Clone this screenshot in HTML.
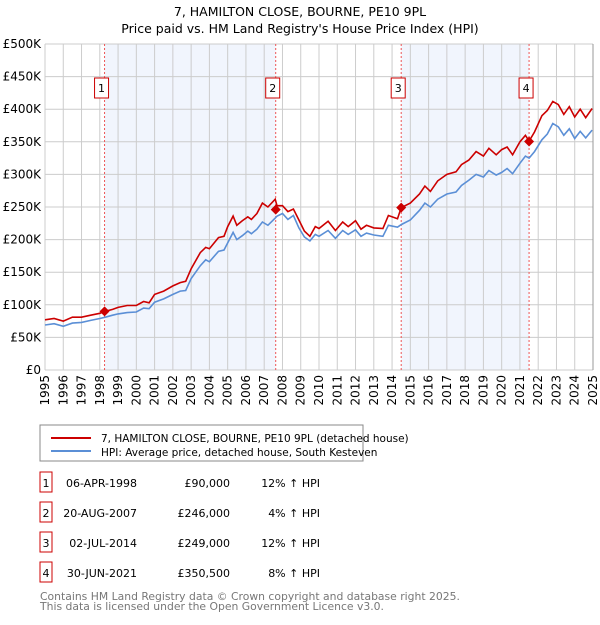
<!DOCTYPE html>
<html><head><meta charset="utf-8"><style>
body{margin:0;background:#fff;font-family:"Liberation Sans","DejaVu Sans",sans-serif;}
svg text{font-family:"DejaVu Sans","Liberation Sans",sans-serif;}
</style></head><body>
<svg id="c" width="600" height="620" xmlns="http://www.w3.org/2000/svg">
<text x="300" y="16" font-size="12.5" text-anchor="middle">7, HAMILTON CLOSE, BOURNE, PE10 9PL</text>
<text x="300" y="33" font-size="12.5" text-anchor="middle">Price paid vs. HM Land Registry's House Price Index (HPI)</text>
<g id="plot"></g>
<g>
<rect x="40" y="425" width="323" height="36" fill="#fff" stroke="#888"/>
<line x1="51" y1="438" x2="91" y2="438" stroke="#cc0000" stroke-width="2"/>
<text x="101" y="442" font-size="10.5">7, HAMILTON CLOSE, BOURNE, PE10 9PL (detached house)</text>
<line x1="51" y1="451" x2="91" y2="451" stroke="#5b8fd6" stroke-width="2"/>
<text x="101" y="456" font-size="10.5">HPI: Average price, detached house, South Kesteven</text>
</g>
<g id="tbl" font-size="11"></g>
<text x="40" y="600" font-size="10.8" fill="#777">Contains HM Land Registry data © Crown copyright and database right 2025.</text>
<text x="40" y="610" font-size="10.8" fill="#777">This data is licensed under the Open Government Licence v3.0.</text>
</svg>
<script>
const times=[1995.0,1995.5,1996.0,1996.5,1997.0,1997.5,1998.0,1998.3,1998.7,1999.0,1999.5,2000.0,2000.4,2000.7,2001.0,2001.5,2002.0,2002.4,2002.7,2003.0,2003.5,2003.8,2004.0,2004.5,2004.8,2005.0,2005.3,2005.5,2005.8,2006.1,2006.3,2006.6,2006.9,2007.2,2007.6,2007.7,2008.0,2008.3,2008.6,2008.9,2009.2,2009.5,2009.8,2010.0,2010.5,2010.9,2011.3,2011.6,2012.0,2012.3,2012.6,2013.0,2013.5,2013.8,2014.3,2014.5,2015.0,2015.5,2015.8,2016.1,2016.5,2017.0,2017.5,2017.8,2018.2,2018.6,2019.0,2019.3,2019.7,2020.0,2020.3,2020.6,2021.0,2021.3,2021.5,2021.8,2022.2,2022.5,2022.8,2023.1,2023.4,2023.7,2024.0,2024.3,2024.6,2024.95];
const hpi=[69,71,67,72,73,76,79,81,84,86,88,89,95,94,104,109,116,121,122,140,160,169,166,182,184,195,211,200,206,213,209,216,227,222,233,236,240,231,237,218,204,198,208,205,214,202,214,208,215,205,210,207,205,222,219,223,230,245,256,250,262,270,273,283,291,300,296,306,299,303,309,301,317,328,325,335,353,362,378,373,360,370,355,366,356,368];
const price=[77,79,75,81,81,84,87,90,93,96,99,99,105,103,116,121,129,134,136,155,180,188,186,203,205,220,236,222,229,235,231,240,256,250,262,252,252,243,247,230,213,205,220,217,228,214,227,220,229,216,222,218,217,237,232,249,256,270,282,274,290,300,304,315,322,335,328,340,330,338,342,330,350,360,351,365,390,398,412,407,392,404,388,400,387,401];
const saleYears=[1998.26,2007.63,2014.5,2021.5];
const saleValues=[90,246,249,350.5];
const saleDates=["06-APR-1998","20-AUG-2007","02-JUL-2014","30-JUN-2021"];
const salePrices=["£90,000","£246,000","£249,000","£350,500"];
const saleDiffs=["12% ↑ HPI","4% ↑ HPI","12% ↑ HPI","8% ↑ HPI"];
const yTicks=[0,50,100,150,200,250,300,350,400,450,500];
const yTickLabels=["£0","£50K","£100K","£150K","£200K","£250K","£300K","£350K","£400K","£450K","£500K"];
const xTicks=[1995,1996,1997,1998,1999,2000,2001,2002,2003,2004,2005,2006,2007,2008,2009,2010,2011,2012,2013,2014,2015,2016,2017,2018,2019,2020,2021,2022,2023,2024,2025];

const NS="http://www.w3.org/2000/svg";
const L=45,R=593,T=44,B=370;
const x=t=>L+(t-1995)/30*(R-L);
const y=v=>B-v/500*(B-T);
const g=document.getElementById('plot');
function mk(tag,at,parent){const e=document.createElementNS(NS,tag);for(const k in at)e.setAttribute(k,at[k]);(parent||g).appendChild(e);return e;}
[[0,1],[2,3]].forEach((p,i)=>{
  const a=x(saleYears[p[0]]), b=x(saleYears[p[1]]);
  const r=mk('rect',{x:a,y:T,width:b-a,height:B-T,fill:'#eef3fc',opacity:0.8});
  
  
});
yTicks.forEach((v,i)=>{
  const l=mk('line',{x1:L,x2:R,y1:y(v),y2:y(v),stroke:'#cccccc'});
  
  
  const t=mk('text',{x:L-4,y:y(v)+4,'font-size':12,'text-anchor':'end'});
  t.textContent=yTickLabels[i];
  
  
});
xTicks.forEach(v=>{
  const l=mk('line',{x1:x(v),x2:x(v),y1:T,y2:B,stroke:'#cccccc'});
  
  
  const t=mk('text',{x:0,y:0,'font-size':12,'text-anchor':'end',transform:`translate(${x(v)+4},${B+5}) rotate(-90)`});
  t.textContent=v;
  
  
});
mk('line',{x1:R,x2:R,y1:T,y2:B,stroke:'#999'});
saleYears.forEach((s,i)=>{
  const l=mk('line',{x1:x(s),x2:x(s),y1:T,y2:B,stroke:'#ee5555','stroke-dasharray':'2,2','stroke-width':1});
  
  
});
function path(vals,color,name){
  const d=times.map((t,i)=>(i?'L':'M')+x(t).toFixed(1)+','+y(vals[i]).toFixed(1)).join('');
  const p=mk('path',{d:d,fill:'none',stroke:color,'stroke-width':1.6});
  
  
}
path(hpi,'#5b8fd6','hpi-line');
path(price,'#cc0000','price-paid-line');
saleYears.forEach((s,i)=>{
  const cx=x(s),cy=y(saleValues[i]);
  const d=mk('path',{d:`M${cx},${cy-5}L${cx+5},${cy}L${cx},${cy+5}L${cx-5},${cy}Z`,fill:'#cc0000'});
  
  
  const bx=mk('rect',{x:cx-10,y:78,width:14,height:20,fill:'#fff',stroke:'#cc0000'});
  
  
  const t=mk('text',{x:cx-3,y:92,'font-size':11,'text-anchor':'middle'});
  t.textContent=i+1;
  
  
});
const tb=document.getElementById('tbl');
saleDates.forEach((d,i)=>{
  const yy=483+i*30;
  const bx=mk('rect',{x:40,y:yy-11,width:12,height:20,fill:'#fff',stroke:'#cc0000'},tb);
  
  
  const n=mk('text',{x:46,y:yy+4,'text-anchor':'middle'},tb);n.textContent=i+1;
  
  
  const a=mk('text',{x:137,y:yy+4,'text-anchor':'end'},tb);a.textContent=d;
  
  
  const b=mk('text',{x:230,y:yy+4,'text-anchor':'end'},tb);b.textContent=salePrices[i];
  
  
  const c=mk('text',{x:320,y:yy+4,'text-anchor':'end'},tb);c.textContent=saleDiffs[i];
  
  
});
</script>
</body></html>
